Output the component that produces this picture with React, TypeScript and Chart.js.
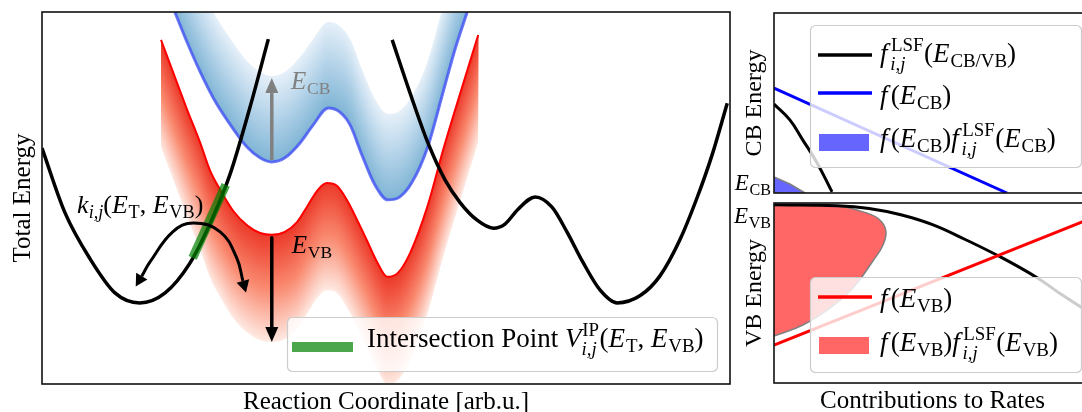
import { useEffect, useRef } from 'react';
import { Chart, registerables } from 'chart.js';

Chart.register(...registerables);

const FAMILY = '"Liberation Serif", "Times New Roman", Times, serif';

/* ---------- left panel: potential energy surfaces (arb.u., 0–10 on both axes) ---------- */
// defect configuration with its single well on the left
const defectAX = [0, 0.33, 0.7, 1.06, 1.42, 1.79, 2.15, 2.44, 2.73, 3.02, 3.29];
const defectAY = [6.34, 4.62, 3.36, 2.45, 2.18, 2.45, 3.25, 4.3, 5.62, 7.42, 9.27];
// defect configuration with the double well on the right
const defectBX = [5.09, 5.35, 5.61, 5.86, 6.08, 6.32, 6.56, 6.73, 6.92, 7.17, 7.41, 7.63, 7.86, 8.11, 8.36, 8.69, 8.98, 9.27, 9.52, 9.74, 9.96];
const defectBY = [9.25, 7.82, 6.48, 5.48, 4.87, 4.41, 4.19, 4.3, 4.7, 5.03, 4.76, 4.09, 3.28, 2.53, 2.18, 2.37, 2.9, 3.87, 5.0, 6.16, 7.55];
// conduction band edge
const cbX = [1.93, 2.12, 2.3, 2.49, 2.69, 2.98, 3.17, 3.34, 3.53, 3.75, 3.94, 4.16, 4.33, 4.48, 4.65, 4.84, 5.03, 5.2, 5.38, 5.6, 5.83, 6.0, 6.18];
const cbY = [10.0, 9.14, 8.39, 7.69, 7.1, 6.37, 6.08, 5.97, 6.08, 6.48, 6.96, 7.42, 7.31, 6.96, 6.16, 5.35, 4.95, 5.03, 5.43, 6.34, 7.85, 8.98, 10.0];
// valence band edge
const vbX = [1.73, 1.92, 2.11, 2.3, 2.44, 2.59, 2.78, 2.98, 3.17, 3.34, 3.53, 3.71, 3.85, 4.01, 4.14, 4.29, 4.43, 4.58, 4.72, 4.87, 5.02, 5.17, 5.35, 5.6, 5.83, 6.08, 6.34];
const vbY = [9.25, 8.31, 7.37, 6.48, 5.75, 5.22, 4.65, 4.27, 4.06, 4.01, 4.09, 4.36, 4.76, 5.22, 5.4, 5.32, 4.95, 4.41, 3.87, 3.28, 2.88, 2.98, 3.52, 4.76, 6.29, 7.82, 9.38];
// width of the carrier energy distributions above the CB edge / below the VB edge
const cbSpread = 2.31;
const vbSpread = 2.88;
// intersection point of the two surfaces
const crossX = [2.19, 2.67];
const crossY = [3.39, 5.35];
// transition arc k_ij (both ends carry arrow heads)
const hopX = [1.45, 1.57, 1.9, 2.2, 2.59, 2.83, 2.92];
const hopY = [2.9, 3.28, 4.09, 4.33, 4.09, 3.39, 2.77];
// energy arrows at the first band minimum
const arrowX = [3.34, 3.34];
const cbArrowY = [6.02, 7.82];
const vbArrowY = [3.93, 1.53];

/* ---------- right panels: contributions to rates (x 0–1) vs. energy window (y 0–1) ---------- */
const occCBX = [0, 0.735];
const occCBY = [0.583, 0];
const lsfCBX = [0, 0.05, 0.091, 0.136, 0.183];
const lsfCBY = [0.494, 0.406, 0.294, 0.167, 0.006];
const prodCBX = [0, 0.05, 0.098, 0];
const prodCBY = [0.089, 0.05, 0, 0];
const occVBX = [0, 1];
const occVBY = [0.211, 0.914];
const lsfVBX = [0, 0.2, 0.3, 0.4, 0.5, 0.6, 0.72, 0.83, 0.9, 0.97];
const lsfVBY = [0.99, 0.985, 0.97, 0.935, 0.88, 0.8, 0.695, 0.585, 0.5, 0.42];
const prodVBX = [0, 0.199, 0.293, 0.334, 0.353, 0.344, 0.312, 0.249, 0.177, 0.091, 0];
const prodVBY = [0.989, 0.983, 0.944, 0.906, 0.844, 0.767, 0.678, 0.528, 0.417, 0.322, 0.261];
const tickCB = 0.056;
const tickVB = 0.93;

/* ---------- rich text (italic symbols, sub/superscripts) ---------- */
type Run = { t: string; it?: boolean; k?: number; dy?: number; sp?: number };
type Stack = { sup: Run[]; sub: Run[] };
type Piece = Run | Stack;

const it = (t: string, sp = 0): Run => ({ t, it: true, sp });
const rm = (t: string): Run => ({ t });
const sb = (t: string, italic = false): Run => ({ t, it: italic, k: 0.7, dy: 0.2 });
const st = (sup: Run[], sub: Run[]): Stack => ({ sup, sub });
const E = (s: string): Piece[] => [it('E', 0.03), sb(s)];

const txtECB = E('CB');
const txtEVB = E('VB');
const txtRate: Piece[] = [it('k'), sb('i,j', true), rm('('), ...E('T'), rm(', '), ...E('VB'), rm(')')];
const txtIP: Piece[] = [rm('Intersection Point '), it('V'), st([rm('IP')], [it('i,j')]), rm('('), ...E('T'), rm(', '), ...E('VB'), rm(')')];
const fLSF: Piece[] = [it('f', 0.1), st([rm('LSF')], [it('i,j')])];
const txtLSF: Piece[] = [...fLSF, rm('('), ...E('CB/VB'), rm(')')];
const fOf = (s: string): Piece[] => [it('f', 0.12), rm('('), ...E(s), rm(')')];
const txtProd = (s: string): Piece[] => [...fOf(s), ...fLSF, rm('('), ...E(s), rm(')')];

function fontOf(px: number, italic?: boolean) {
  return `${italic ? 'italic ' : ''}${px.toFixed(2)}px ${FAMILY}`;
}
function runWidth(ctx: CanvasRenderingContext2D, r: Run, size: number) {
  ctx.font = fontOf(size * (r.k ?? 1), r.it);
  return ctx.measureText(r.t).width + (r.sp ?? 0) * size;
}
function pieceWidth(ctx: CanvasRenderingContext2D, p: Piece, size: number) {
  if ('sup' in p) {
    const s = size * 0.7;
    const a = p.sup.reduce((w, r) => w + runWidth(ctx, r, s), 0);
    const b = p.sub.reduce((w, r) => w + runWidth(ctx, r, s), 0);
    return Math.max(a, b) + 0.05 * size;
  }
  return runWidth(ctx, p, size);
}
function drawRuns(ctx: CanvasRenderingContext2D, runs: Run[], x: number, y: number, size: number) {
  for (const r of runs) {
    ctx.font = fontOf(size * (r.k ?? 1), r.it);
    ctx.fillText(r.t, x, y + (r.dy ?? 0) * size);
    x += ctx.measureText(r.t).width + (r.sp ?? 0) * size;
  }
}
function drawRich(ctx: CanvasRenderingContext2D, pieces: Piece[], x: number, y: number, size: number, color: string, align: 'left' | 'right' | 'center' = 'left') {
  ctx.save();
  ctx.fillStyle = color;
  ctx.textAlign = 'left';
  ctx.textBaseline = 'alphabetic';
  const total = pieces.reduce((w, p) => w + pieceWidth(ctx, p, size), 0);
  let cx = align === 'left' ? x : align === 'right' ? x - total : x - total / 2;
  for (const p of pieces) {
    const w = pieceWidth(ctx, p, size);
    if ('sup' in p) {
      drawRuns(ctx, p.sup, cx + 0.03 * size, y - 0.4 * size, size * 0.7);
      drawRuns(ctx, p.sub, cx, y + 0.28 * size, size * 0.7);
    } else {
      drawRuns(ctx, [p], cx, y, size);
    }
    cx += w;
  }
  ctx.restore();
}
function vText(ctx: CanvasRenderingContext2D, text: string, x: number, y: number, size: number) {
  ctx.save();
  ctx.translate(x, y);
  ctx.rotate(-Math.PI / 2);
  ctx.font = fontOf(size);
  ctx.fillStyle = '#000';
  ctx.textAlign = 'center';
  ctx.textBaseline = 'alphabetic';
  ctx.fillText(text, 0, 0);
  ctx.restore();
}
function hText(ctx: CanvasRenderingContext2D, text: string, x: number, y: number, size: number) {
  ctx.save();
  ctx.font = fontOf(size);
  ctx.fillStyle = '#000';
  ctx.textAlign = 'center';
  ctx.textBaseline = 'alphabetic';
  ctx.fillText(text, x, y);
  ctx.restore();
}
function legendBox(ctx: CanvasRenderingContext2D, x: number, y: number, w: number, h: number) {
  ctx.save();
  ctx.beginPath();
  ctx.roundRect(x + 0.5, y + 0.5, w, h, 5);
  ctx.fillStyle = 'rgba(255,255,255,0.8)';
  ctx.fill();
  ctx.strokeStyle = 'rgba(204,204,204,1)';
  ctx.lineWidth = 1.2;
  ctx.stroke();
  ctx.restore();
}
function handleLine(ctx: CanvasRenderingContext2D, x0: number, x1: number, y: number, color: string, width: number) {
  ctx.save();
  ctx.beginPath();
  ctx.moveTo(x0, y);
  ctx.lineTo(x1, y);
  ctx.strokeStyle = color;
  ctx.lineWidth = width;
  ctx.lineCap = 'butt';
  ctx.stroke();
  ctx.restore();
}
function frame(chart: any) {
  const { ctx, chartArea: a } = chart;
  ctx.save();
  ctx.strokeStyle = '#111';
  ctx.lineWidth = 1.6;
  ctx.strokeRect(a.left, a.top, a.right - a.left, a.bottom - a.top);
  ctx.restore();
}

/* ---------- colour ramps for the energy distributions ---------- */
const blueStops = [[128, 181, 213], [178, 210, 232], [230, 240, 249]];
const redStops = [[236, 58, 42], [249, 138, 112], [254, 234, 227]];
function ramp(stops: number[][], t: number) {
  const seg = t * (stops.length - 1);
  const i = Math.min(Math.floor(seg), stops.length - 2);
  const f = seg - i;
  const c = stops[i].map((v, j) => Math.round(v + (stops[i + 1][j] - v) * f));
  return `rgb(${c[0]},${c[1]},${c[2]})`;
}

const pts = (xs: number[], ys: number[]) => xs.map((x, i) => ({ x, y: ys[i] }));
const TENSION = 0.42;
const SMOOTH = { cubicInterpolationMode: 'monotone' };
const BAND_STEPS = 44;
const CLEAR = 'rgba(0,0,0,0)';

function addBand(ds: any[], xs: number[], ys: number[], spread: number, dir: number, stops: number[][]) {
  const base = ds.length;
  ds.push({ data: pts(xs, ys), borderColor: CLEAR, borderWidth: 1, fill: false, ...SMOOTH, order: 200 });
  for (let k = BAND_STEPS; k >= 1; k--) {
    const off = (dir * spread * k) / BAND_STEPS;
    ds.push({
      data: xs.map((x, i) => ({ x, y: ys[i] + off })),
      borderColor: CLEAR,
      borderWidth: 1,
      backgroundColor: ramp(stops, (k - 0.5) / BAND_STEPS),
      fill: base,
      ...SMOOTH,
      order: 100 + k,
    });
  }
}

/* arrow heads: base at the dataset's end point, tip pointing onwards */
const arrowHeads = {
  id: 'arrowHeads',
  afterDatasetsDraw(chart: any) {
    const ctx = chart.ctx as CanvasRenderingContext2D;
    chart.data.datasets.forEach((d: any, i: number) => {
      if (!d.heads) return;
      const p = chart.getDatasetMeta(i).data;
      const n = p.length;
      const ends: any[] = [];
      if (d.heads.includes('start')) ends.push([p[0], p[1]]);
      if (d.heads.includes('end')) ends.push([p[n - 1], p[n - 2]]);
      for (const [a, b] of ends) {
        const ang = Math.atan2(a.y - b.y, a.x - b.x);
        const c = Math.cos(ang);
        const s = Math.sin(ang);
        const L = d.headLen;
        const W = d.headWid / 2;
        ctx.save();
        ctx.beginPath();
        ctx.moveTo(a.x + c * L, a.y + s * L);
        ctx.lineTo(a.x - s * W, a.y + c * W);
        ctx.lineTo(a.x + s * W, a.y - c * W);
        ctx.closePath();
        ctx.fillStyle = d.borderColor;
        ctx.fill();
        ctx.restore();
      }
    });
  },
};

function baseOptions(pad: any, xr: number[], yr: number[]) {
  return {
    responsive: false,
    animation: false,
    events: [],
    layout: { padding: pad },
    plugins: { legend: { display: false }, tooltip: { enabled: false } },
    elements: {
      point: { radius: 0, hoverRadius: 0 },
      line: { fill: false, borderJoinStyle: 'round', borderCapStyle: 'butt' },
    },
    scales: {
      x: { type: 'linear', display: false, min: xr[0], max: xr[1] },
      y: { type: 'linear', display: false, min: yr[0], max: yr[1] },
    },
  };
}

function mainConfig(): any {
  const ds: any[] = [];
  ds.push({ data: pts(defectAX, defectAY), borderColor: '#000', borderWidth: 3.5, ...SMOOTH, order: 6 });
  ds.push({ data: pts(defectBX, defectBY), borderColor: '#000', borderWidth: 3.5, ...SMOOTH, order: 6 });
  addBand(ds, cbX, cbY, cbSpread, 1, blueStops);
  addBand(ds, vbX, vbY, vbSpread, -1, redStops);
  ds.push({ data: pts(cbX, cbY), borderColor: 'rgba(70,85,245,0.8)', borderWidth: 3, ...SMOOTH, order: 9 });
  ds.push({ data: pts(vbX, vbY), borderColor: '#ff0000', borderWidth: 2, ...SMOOTH, order: 8 });
  ds.push({ data: pts(crossX, crossY), borderColor: 'rgba(0,128,0,0.7)', borderWidth: 9, tension: 0, order: 4 });
  ds.push({ data: pts(hopX, hopY), borderColor: '#000', borderWidth: 3, tension: TENSION, order: 3, heads: ['start', 'end'], headLen: 12, headWid: 13 });
  ds.push({ data: pts(arrowX, cbArrowY), borderColor: '#808080', borderWidth: 3.5, tension: 0, order: 2, heads: ['end'], headLen: 15, headWid: 13 });
  ds.push({ data: pts(arrowX, vbArrowY), borderColor: '#000', borderWidth: 3.5, tension: 0, order: 2, heads: ['end'], headLen: 15, headWid: 13 });

  const decor = {
    id: 'mainDecor',
    afterDatasetsDraw(chart: any) {
      const ctx = chart.ctx as CanvasRenderingContext2D;
      const { x, y } = chart.scales;
      drawRich(ctx, txtECB, x.getPixelForValue(3.62), y.getPixelForValue(7.93), 25, '#808080');
      drawRich(ctx, txtEVB, x.getPixelForValue(3.63), y.getPixelForValue(3.52), 25, '#000');
      drawRich(ctx, txtRate, x.getPixelForValue(0.51), y.getPixelForValue(4.6), 26, '#000');
      frame(chart);
    },
    afterDraw(chart: any) {
      const ctx = chart.ctx as CanvasRenderingContext2D;
      const a = chart.chartArea;
      const W = 430;
      const H = 54;
      const L = a.right - 13 - W;
      const T = a.bottom - 13 - H;
      legendBox(ctx, L, T, W, H);
      handleLine(ctx, L + 5, L + 66, T + 30, 'rgba(0,128,0,0.7)', 10);
      drawRich(ctx, txtIP, L + 80, T + 30, 27, '#000');
      hText(ctx, 'Reaction Coordinate [arb.u.]', (a.left + a.right) / 2, 409, 25);
      vText(ctx, 'Total Energy', 30, (a.top + a.bottom) / 2, 25);
    },
  };

  return {
    type: 'line',
    data: { datasets: ds },
    options: baseOptions({ left: 42, top: 12, right: 15, bottom: 28 }, [0, 10], [0, 10]),
    plugins: [arrowHeads, decor],
  };
}

function cbConfig(): any {
  const ds: any[] = [
    { data: pts(prodCBX, prodCBY), fill: 'shape', backgroundColor: 'rgba(0,0,255,0.6)', borderColor: '#808080', borderWidth: 1.5, tension: 0, order: 3 },
    { data: pts(lsfCBX, lsfCBY), borderColor: '#000', borderWidth: 3, tension: TENSION, order: 2 },
    { data: pts(occCBX, occCBY), borderColor: '#0000ff', borderWidth: 3, tension: 0, order: 1 },
  ];
  const decor = {
    id: 'cbDecor',
    afterDatasetsDraw(chart: any) {
      frame(chart);
    },
    afterDraw(chart: any) {
      const ctx = chart.ctx as CanvasRenderingContext2D;
      const a = chart.chartArea;
      const W = 271;
      const H = 142;
      const L = a.right - 10 - W;
      const T = a.top + 12;
      legendBox(ctx, L, T, W, H);
      handleLine(ctx, L + 8, L + 62, T + 30, '#000', 3.5);
      handleLine(ctx, L + 8, L + 62, T + 68, '#0000ff', 3.5);
      ctx.save();
      ctx.fillStyle = 'rgba(0,0,255,0.6)';
      ctx.fillRect(L + 9, T + 109, 50, 17);
      ctx.restore();
      drawRich(ctx, txtLSF, L + 70, T + 37, 27, '#000');
      drawRich(ctx, fOf('CB'), L + 70, T + 79, 27, '#000');
      drawRich(ctx, txtProd('CB'), L + 70, T + 122, 27, '#000');
      const yT = chart.scales.y.getPixelForValue(tickCB);
      drawRich(ctx, txtECB, a.left - 3, yT + 7.5, 23, '#000', 'right');
      vText(ctx, 'CB Energy', a.left - 13, (a.top + a.bottom) / 2, 24);
    },
  };
  return {
    type: 'line',
    data: { datasets: ds },
    options: baseOptions({ left: 54, top: 13, right: 9, bottom: 5 }, [0, 1], [0, 1]),
    plugins: [decor],
  };
}

function vbConfig(): any {
  const ds: any[] = [
    { data: pts(prodVBX, prodVBY), fill: 'shape', backgroundColor: 'rgba(255,0,0,0.6)', borderColor: '#808080', borderWidth: 1.5, tension: TENSION, order: 3 },
    { data: pts(lsfVBX, lsfVBY), borderColor: '#000', borderWidth: 3, tension: TENSION, order: 2 },
    { data: pts(occVBX, occVBY), borderColor: '#ff0000', borderWidth: 3, tension: 0, order: 1 },
  ];
  const decor = {
    id: 'vbDecor',
    afterDatasetsDraw(chart: any) {
      frame(chart);
    },
    afterDraw(chart: any) {
      const ctx = chart.ctx as CanvasRenderingContext2D;
      const a = chart.chartArea;
      const W = 271;
      const H = 95;
      const L = a.right - 10 - W;
      const T = a.bottom - 11 - H;
      legendBox(ctx, L, T, W, H);
      handleLine(ctx, L + 8, L + 62, T + 20, '#ff0000', 3.5);
      ctx.save();
      ctx.fillStyle = 'rgba(255,0,0,0.6)';
      ctx.fillRect(L + 9, T + 60, 50, 17);
      ctx.restore();
      drawRich(ctx, fOf('VB'), L + 70, T + 30, 27, '#000');
      drawRich(ctx, txtProd('VB'), L + 70, T + 74, 27, '#000');
      const yT = chart.scales.y.getPixelForValue(tickVB);
      drawRich(ctx, txtEVB, a.left - 3, yT + 7.5, 23, '#000', 'right');
      vText(ctx, 'VB Energy', a.left - 13, (a.top + a.bottom) / 2, 24);
      hText(ctx, 'Contributions to Rates', (a.left + a.right) / 2, 210, 25);
    },
  };
  return {
    type: 'line',
    data: { datasets: ds },
    options: baseOptions({ left: 54, top: 5, right: 9, bottom: 29 }, [0, 1], [0, 1]),
    plugins: [decor],
  };
}

export default function App() {
  const mainRef = useRef<HTMLCanvasElement>(null);
  const cbRef = useRef<HTMLCanvasElement>(null);
  const vbRef = useRef<HTMLCanvasElement>(null);

  useEffect(() => {
    const charts = [
      new Chart(mainRef.current as HTMLCanvasElement, mainConfig()),
      new Chart(cbRef.current as HTMLCanvasElement, cbConfig()),
      new Chart(vbRef.current as HTMLCanvasElement, vbConfig()),
    ];
    return () => charts.forEach((c) => c.destroy());
  }, []);

  return (
    <div style={{ position: 'fixed', left: 0, top: 0, width: 1082, height: 412, overflow: 'hidden', background: '#fff' }}>
      <canvas ref={mainRef} width={745} height={412} style={{ position: 'absolute', left: 0, top: 0 }} />
      <canvas ref={cbRef} width={380} height={198} style={{ position: 'absolute', left: 720, top: 0 }} />
      <canvas ref={vbRef} width={380} height={214} style={{ position: 'absolute', left: 720, top: 198 }} />
    </div>
  );
}
